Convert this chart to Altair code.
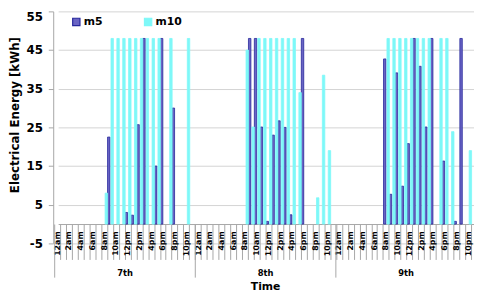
import altair as alt
import pandas as pd

days = ["7th", "8th", "9th"]
hour_labels = ["12am", "2am", "4am", "6am", "8am", "10am",
               "12pm", "2pm", "4pm", "6pm", "8pm", "10pm"]
series_names = ["m5", "m10"]
y_ticks = [-5, 5, 15, 25, 35, 45, 55]

N = None
m5_day7 = [N, N, N, N, N, N, N, N, 22.5, N, N, 3.0, 2.3, 25.7, 48, N, 15.0, 48, N, 30.0, N, N, N, N]
m5_day8 = [N, N, N, N, N, N, N, N, 48, 48, 25.1, 0.7, 23.0, 26.7, 25.0, 2.4, N, 48, N, N, N, N, N, N]
m5_day9 = [N, N, N, N, N, N, N, 42.7, 7.7, 39.1, 9.8, 20.8, 48, 40.8, 25.1, 48, N, 16.3, N, 0.7, 48, N, N, N]
m10_day7 = [N, N, N, N, N, N, N, N, 8.0, 48, 48, 48, 48, 48, 48, 48, 48, 48, N, 48, N, N, 48, N]
m10_day8 = [N, N, N, N, N, N, N, N, 45, 25.1, 48, 48, 48, 48, 48, 48, 48, 34.0, N, N, 6.8, 38.5, 19.0, N]
m10_day9 = [N, N, N, N, N, N, N, N, 48, 48, 48, 48, 48, 48, 48, 48, N, 48, 48, 23.9, N, N, 19.0, N]

m5_all = [m5_day7, m5_day8, m5_day9]
m10_all = [m10_day7, m10_day8, m10_day9]

rows = []
for d in range(len(days)):
    for h in range(24):
        H = d * 24 + h
        if m5_all[d][h] is not None:
            rows.append({"H": H, "series": "m5", "value": m5_all[d][h]})
        if m10_all[d][h] is not None:
            rows.append({"H": H, "series": "m10", "value": m10_all[d][h]})
df = pd.DataFrame(rows)
day_df = pd.DataFrame({"day": days})

FONT = "DejaVu Sans"
GRAY = "#a6a6a6"
hours_domain = list(range(72))
js_labels = "[" + ",".join("'" + s + "'" for s in hour_labels) + "]"
label_expr = "datum.value % 2 == 0 ? " + js_labels + "[(datum.value % 24) / 2] : ''"

legend = alt.Legend(
    title=None, orient="none", legendX=18, legendY=5, direction="horizontal", columns=2,
    symbolType="square", symbolSize=55, symbolStrokeWidth=1.2,
    labelFont=FONT, labelFontSize=11, labelFontWeight="bold", labelColor="#000000",
    columnPadding=39, labelOffset=2,
)

bars = alt.Chart(df).mark_bar(strokeWidth=0.8).encode(
    x=alt.X(
        "H:O",
        scale=alt.Scale(domain=hours_domain, range=[5, 434], paddingInner=0.17, paddingOuter=0),
        axis=alt.Axis(
            title=None, labelExpr=label_expr, labelAngle=-90, labelAlign="right",
            labelBaseline="middle", tickSize=36, labelPadding=-29, offset=-19.7,
            labelOffset=-3.0, tickOffset=-0.5, domainColor=GRAY, tickColor=GRAY,
            labelFontSize=8, labelFont=FONT, labelFontWeight="bold", grid=False,
            labelColor="#000000",
        ),
    ),
    xOffset=alt.XOffset("series:N", scale=alt.Scale(domain=["m10", "m5"])),
    y=alt.Y(
        "value:Q",
        scale=alt.Scale(domain=[-5, 55], nice=False),
        axis=alt.Axis(
            values=y_ticks, title="Electrical Energy [kWh]", grid=True, gridColor="#d3d3d3",
            labelExpr="'' + datum.value",
            labelBaseline={"condition": {"test": "datum.value == 55", "value": "top"}, "value": "middle"},
            tickSize=5, labelPadding=6, domainColor=GRAY, tickColor=GRAY,
            labelFont=FONT, labelFontSize=12, labelFontWeight="bold", labelColor="#000000",
            titleFont=FONT, titleFontSize=12, titleFontWeight="bold", titleColor="#000000",
            titlePadding=5, titleY=105,
        ),
    ),
    fill=alt.Fill(
        "series:N",
        scale=alt.Scale(domain=series_names, range=["#6a64c4", "#7ef8f8"]),
        legend=legend,
    ),
    stroke=alt.Stroke(
        "series:N",
        scale=alt.Scale(domain=series_names, range=["#26279c", "#7ef8f8"]),
        legend=legend,
    ),
)

day_layer = alt.Chart(day_df).mark_bar(opacity=0).encode(
    x=alt.X(
        "day:N",
        sort=days,
        scale=alt.Scale(domain=days, range=[1, 430], paddingInner=0, paddingOuter=0),
        axis=alt.Axis(
            orient="bottom", title="Time", tickSize=54, tickBand="extent", labelPadding=-9,
            offset=-19.7, domain=False, tickColor=GRAY, labelAngle=0,
            labelFont=FONT, labelFontSize=8.5, labelFontWeight="bold", labelColor="#000000",
            titleFont=FONT, titleFontSize=11, titleFontWeight="bold", titleColor="#000000",
            titlePadding=3,
        ),
    ),
)

chart = alt.layer(bars, day_layer).resolve_scale(x="independent").properties(
    width=428,
    height=236,
    autosize=alt.AutoSizeParams(type="none"),
    padding={"left": 46, "top": 1, "right": 0, "bottom": 48},
).configure_view(stroke=None)

chart.save("out.html", embed_options={"renderer": "svg", "actions": False})
